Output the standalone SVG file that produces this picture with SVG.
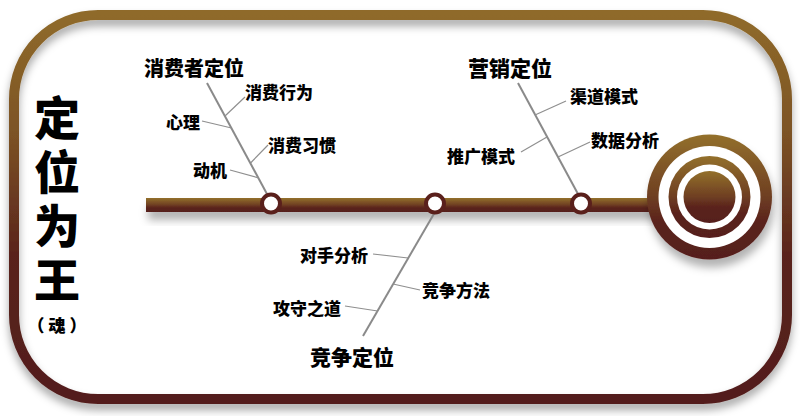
<svg xmlns="http://www.w3.org/2000/svg" width="800" height="416" viewBox="0 0 800 416">
<defs>
<linearGradient id="frameGrad" gradientUnits="userSpaceOnUse" x1="0" y1="15" x2="0" y2="399">
<stop offset="0" stop-color="#8f6a2a"/>
<stop offset="0.3" stop-color="#7d5425"/>
<stop offset="0.62" stop-color="#5a241d"/>
<stop offset="1" stop-color="#521d1b"/>
</linearGradient>
<linearGradient id="bronze" x1="0" y1="0" x2="0" y2="1">
<stop offset="0" stop-color="#93702c"/>
<stop offset="0.5" stop-color="#6e3e22"/>
<stop offset="0.7" stop-color="#5a221d"/>
<stop offset="1" stop-color="#561f1c"/>
</linearGradient>
<filter id="shadow" x="-10%" y="-10%" width="120%" height="130%">
<feDropShadow dx="0" dy="6" stdDeviation="4" flood-color="#000" flood-opacity="0.35"/>
</filter>
<filter id="shadowSoft" x="-20%" y="-50%" width="140%" height="250%">
<feDropShadow dx="2" dy="8" stdDeviation="4" flood-color="#000" flood-opacity="0.3"/>
</filter>
<filter id="sideShadow" x="-500%" y="0%" width="1100%" height="100%">
<feDropShadow dx="0" dy="0" stdDeviation="3" flood-color="#000" flood-opacity="0.25"/>
</filter>
<style>
.t{font-family:"Noto Sans CJK SC","Noto Sans",sans-serif;font-weight:900;fill:#000}
.big{font-size:20px}
.head{font-size:21px}
.sub{font-size:17px}
.title{font-size:46px;writing-mode:vertical-rl;letter-spacing:8px}
.soul{font-size:17px;text-anchor:middle}
.main{stroke:#8a8a8a;stroke-width:2;fill:none}
.br{stroke:#8f8f8f;stroke-width:1.2;fill:none}
.node{fill:#fff;stroke:#5a201c;stroke-width:4}
</style>
</defs>
<rect x="0" y="0" width="800" height="416" fill="#fff"/>

<g id="frame">
<rect x="14" y="15" width="773" height="384" rx="84" ry="84" fill="none" stroke="url(#frameGrad)" stroke-width="10" filter="url(#shadow)"/>
<line x1="103.5" y1="20" x2="103.5" y2="394" stroke="url(#frameGrad)" stroke-width="2" filter="url(#sideShadow)"/>
</g>

<g id="title">
<text class="t title" x="57" y="95">定位为王</text>
<text class="t soul" x="57" y="331.5">（ 魂 ）</text>
</g>

<g id="spine">
<rect x="146" y="198" width="520" height="14" fill="url(#bronze)" filter="url(#shadowSoft)"/>
</g>

<g id="connectors">
<line class="main" x1="207" y1="83" x2="267" y2="194"/>
<line class="br" x1="225" y1="116" x2="245" y2="97"/>
<line class="br" x1="202" y1="121" x2="231.5" y2="128"/>
<line class="br" x1="250.6" y1="163" x2="268" y2="145"/>
<line class="br" x1="230" y1="170" x2="258.8" y2="178"/>

<line class="main" x1="518" y1="83" x2="578" y2="194"/>
<line class="br" x1="535" y1="115" x2="566" y2="101"/>
<line class="br" x1="521" y1="152" x2="547" y2="137"/>
<line class="br" x1="558" y1="157" x2="590" y2="142"/>

<line class="main" x1="435" y1="212" x2="363" y2="336"/>
<line class="br" x1="373" y1="254" x2="408" y2="258"/>
<line class="br" x1="393" y1="284" x2="420" y2="290"/>
<line class="br" x1="345" y1="306" x2="377.6" y2="311"/>
</g>

<g id="junction-1"><circle class="node" cx="271" cy="203.5" r="9"/></g>
<g id="junction-2"><circle class="node" cx="435" cy="203.5" r="9"/></g>
<g id="junction-3"><circle class="node" cx="581" cy="203.5" r="9"/></g>

<g id="target" filter="url(#shadowSoft)">
<circle cx="709.5" cy="197" r="62.5" fill="url(#bronze)"/>
<circle cx="709.5" cy="197" r="51" fill="#fff"/>
<circle cx="709.5" cy="197" r="41" fill="url(#bronze)"/>
<circle cx="709.5" cy="197" r="32.5" fill="#fff"/>
<circle cx="709.5" cy="197" r="26" fill="url(#bronze)"/>
</g>

<g id="consumer">
<text class="t big" x="144" y="76">消费者定位</text>
<text class="t sub" x="245" y="99">消费行为</text>
<text class="t sub" x="166" y="128.5">心理</text>
<text class="t sub" x="268" y="151.5">消费习惯</text>
<text class="t sub" x="193" y="176.5">动机</text>
</g>

<g id="marketing">
<text class="t head" x="468" y="75.5">营销定位</text>
<text class="t sub" x="570" y="103">渠道模式</text>
<text class="t sub" x="447" y="163">推广模式</text>
<text class="t sub" x="591" y="146.5">数据分析</text>
</g>

<g id="competition">
<text class="t head" x="310" y="364.5">竞争定位</text>
<text class="t sub" x="300" y="261.5">对手分析</text>
<text class="t sub" x="422" y="296.5">竞争方法</text>
<text class="t sub" x="273" y="315">攻守之道</text>
</g>
</svg>
